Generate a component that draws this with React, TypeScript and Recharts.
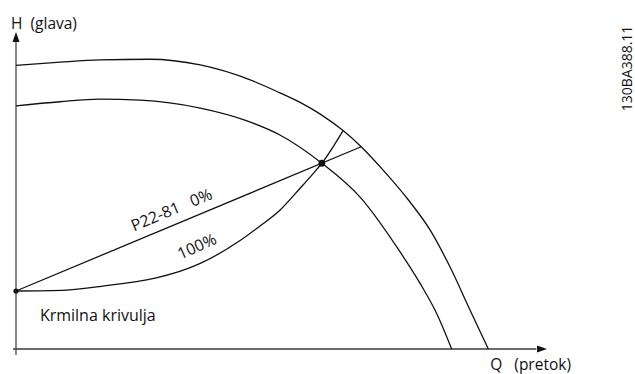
import React from 'react';
import { LineChart, Line, XAxis, YAxis, ReferenceLine, ReferenceDot } from 'recharts';

// pump curves (Q = flow, H = head), both axes 0..100 up to the arrow tips
const outerPumpCurve = [
  { q: 0, h: 89.5 }, { q: 8.3, h: 90.5 }, { q: 15.8, h: 91.2 }, { q: 25.2, h: 91.4 },
  { q: 34.7, h: 89.6 }, { q: 44.1, h: 84.9 }, { q: 49.7, h: 80.8 }, { q: 53.5, h: 77.8 },
  { q: 57.3, h: 74.1 }, { q: 61.6, h: 68.9 }, { q: 65.0, h: 63.8 }, { q: 69.1, h: 56.5 },
  { q: 73.9, h: 47.0 }, { q: 78.0, h: 37.5 }, { q: 81.7, h: 26.0 }, { q: 85.5, h: 12.3 },
  { q: 88.95, h: 0 },
];

const innerPumpCurve = [
  { q: 0, h: 76.7 }, { q: 8.3, h: 78.0 }, { q: 15.8, h: 78.8 }, { q: 23.4, h: 78.5 },
  { q: 34.7, h: 76.0 }, { q: 43.1, h: 72.2 }, { q: 49.7, h: 67.5 }, { q: 57.6, h: 58.6 },
  { q: 64.8, h: 47.9 }, { q: 72.3, h: 30.7 }, { q: 76.1, h: 20.7 }, { q: 79.2, h: 11.3 },
  { q: 82.05, h: 0 },
];

// control curve, P22-81 = 0% (straight) and 100% (bent)
const controlLine0 = [{ q: 0, h: 18.3 }, { q: 65.0, h: 63.8 }];
const controlCurve100 = [
  { q: 0, h: 18.3 }, { q: 9.5, h: 18.6 }, { q: 15.8, h: 19.7 }, { q: 34.7, h: 27.0 },
  { q: 42.2, h: 34.2 }, { q: 45.95, h: 38.8 }, { q: 49.7, h: 43.8 }, { q: 53.5, h: 50.7 },
  { q: 56.0, h: 55.4 }, { q: 57.6, h: 58.6 }, { q: 61.6, h: 68.9 },
];

const markerPoints = [
  { q: 0, h: 18.3, r: 2.6 },
  { q: 57.6, h: 58.6, r: 3.4 },
];

const curveLabels = [
  { text: 'P22-81\u00A0\u00A0 0%', q: 29.7, h: 42.3, angle: -22.7 },
  { text: '100%', q: 34.5, h: 30.8, angle: -24 },
];

const plainLabels = [
  { text: 'H\u00A0 (glava)', q: -0.94, h: 100.9, anchor: 'start', angle: 0, size: 15.5 },
  { text: 'Q\u00A0\u00A0 (pretok)', q: 89.3, h: -6.7, anchor: 'start', angle: 0, size: 15.5 },
  { text: 'Krmilna krivulja', q: 4.5, h: 8.8, anchor: 'start', angle: 0, size: 16 },
  { text: '130BA388.11', q: 116.1, h: 88.5, anchor: 'middle', angle: -90, size: 14 },
];

const FONT = '"Open Sans", sans-serif';
const INK = '#111';
const AXIS = '#3a3a3a';

const App: React.FC = () => {
  return (
    <div style={{ position: 'absolute', left: 0, top: 0, width: 635, height: 374, background: '#fff' }}>
      <LineChart width={635} height={374} margin={{ top: 32, right: 88, bottom: 25, left: 16 }}>
        <XAxis type="number" dataKey="q" domain={[0, 100]} hide />
        <YAxis type="number" dataKey="h" domain={[0, 100]} hide />

        {/* axes */}
        <ReferenceLine segment={[{ x: -0.56, y: 0 }, { x: 98, y: 0 }]} stroke={AXIS} strokeWidth={1.4} ifOverflow="visible" />
        <ReferenceLine segment={[{ x: 0, y: -1.9 }, { x: 0, y: 97 }]} stroke={AXIS} strokeWidth={1.2} ifOverflow="visible" />
        <ReferenceDot
          x={100} y={0} ifOverflow="visible"
          shape={(p: any) => <polygon points={`${p.cx},${p.cy} ${p.cx - 10},${p.cy - 3.5} ${p.cx - 10},${p.cy + 3.5}`} fill={INK} />}
        />
        <ReferenceDot
          x={0} y={100} ifOverflow="visible"
          shape={(p: any) => <polygon points={`${p.cx},${p.cy} ${p.cx - 3.5},${p.cy + 10} ${p.cx + 3.5},${p.cy + 10}`} fill={INK} />}
        />

        <Line data={outerPumpCurve} dataKey="h" type="monotone" stroke={INK} strokeWidth={1.3} dot={false} isAnimationActive={false} />
        <Line data={innerPumpCurve} dataKey="h" type="monotone" stroke={INK} strokeWidth={1.3} dot={false} isAnimationActive={false} />
        <Line data={controlLine0} dataKey="h" type="linear" stroke={INK} strokeWidth={1.3} dot={false} isAnimationActive={false} />
        <Line data={controlCurve100} dataKey="h" type="monotone" stroke={INK} strokeWidth={1.3} dot={false} isAnimationActive={false} />

        {markerPoints.map((m, i) => (
          <ReferenceDot key={`m${i}`} x={m.q} y={m.h} r={m.r} fill={INK} stroke="none" ifOverflow="visible" />
        ))}

        {curveLabels.map((l, i) => (
          <ReferenceDot
            key={`c${i}`} x={l.q} y={l.h} ifOverflow="visible"
            shape={(p: any) => (
              <text x={p.cx} y={p.cy} textAnchor="middle" fontFamily={FONT} fontSize={16} fill={INK}
                transform={`rotate(${l.angle}, ${p.cx}, ${p.cy})`}>{l.text}</text>
            )}
          />
        ))}

        {plainLabels.map((l, i) => (
          <ReferenceDot
            key={`p${i}`} x={l.q} y={l.h} ifOverflow="visible"
            shape={(p: any) => (
              <text x={p.cx} y={p.cy} textAnchor={l.anchor as any} fontFamily={FONT} fontSize={l.size} fill={INK}
                transform={l.angle ? `rotate(${l.angle}, ${p.cx}, ${p.cy})` : undefined}>{l.text}</text>
            )}
          />
        ))}
      </LineChart>
    </div>
  );
};

export default App;
